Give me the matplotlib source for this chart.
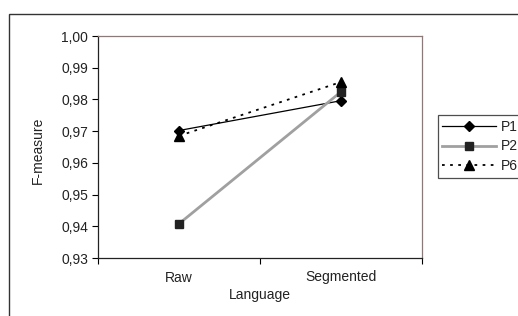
import matplotlib
matplotlib.use("Agg")
import matplotlib.pyplot as plt
from matplotlib.patches import Rectangle
from matplotlib.ticker import FuncFormatter

categories = ["Raw", "Segmented"]
series_names = ["P1", "P2", "P6"]
p1 = [0.9702, 0.9796]
p2 = [0.9408, 0.9824]
p6 = [0.9685, 0.9855]
yticks = [0.93, 0.94, 0.95, 0.96, 0.97, 0.98, 0.99, 1.00]

plt.rcParams['font.family'] = ['Liberation Sans', 'DejaVu Sans']
fs = 10
tcol = '#222222'

W, H = 518, 316
fig = plt.figure(figsize=(W/100, H/100), dpi=100)
fig.patch.set_facecolor('white')

# outer chart-area frame (cropped on right/bottom)
fig.patches.append(Rectangle((9/W, -0.1), 1.2, 1 - 14/H + 0.1, transform=fig.transFigure,
                             fill=False, edgecolor='#333333', linewidth=1.0))

ax = fig.add_axes([98/W, 1 - 258/H, (422-98)/W, (258-36)/H])
x = [0.5, 1.5]

ax.plot(x, p1, color='black', linewidth=0.9, marker='D', markersize=5.5,
        markerfacecolor='black', markeredgecolor='black', label=series_names[0], zorder=3)
ax.plot(x, p2, color='#a0a0a0', linewidth=2.0, marker='s', markersize=6,
        markerfacecolor='#222222', markeredgecolor='#222222', label=series_names[1], zorder=3)
ax.plot(x, p6, color='black', linewidth=1.3, linestyle=(0, (1.5, 3)), marker='^', markersize=7,
        markerfacecolor='black', markeredgecolor='black', label=series_names[2], zorder=3)

ax.set_xlim(0, 2)
ax.set_ylim(0.93, 1.00)
ax.set_yticks(yticks)
ax.yaxis.set_major_formatter(FuncFormatter(lambda v, p: f"{v:.2f}".replace('.', ',')))
ax.set_xticks([0, 1, 2])
ax.set_xticklabels([])
ax.set_xticks(x, minor=True)
ax.set_xticklabels(categories, minor=True)
ax.tick_params(axis='x', which='minor', length=0, pad=9, labelsize=fs, labelcolor=tcol)
ax.tick_params(axis='x', which='major', direction='out', length=4, width=0.8)
ax.tick_params(axis='y', direction='out', length=4, width=0.8, labelsize=fs, pad=3, labelcolor=tcol)

for s in ['left', 'bottom']:
    ax.spines[s].set_color('#222222')
    ax.spines[s].set_linewidth(0.9)
for s in ['top', 'right']:
    ax.spines[s].set_color('#8a7a7a')
    ax.spines[s].set_linewidth(0.9)

fig.text(38/W, 1 - 150/H, "F-measure", rotation=90, ha='center', va='center', fontsize=fs, color=tcol)
fig.text(260/W, 1 - 295/H, "Language", ha='center', va='center', fontsize=fs, color=tcol)

leg = fig.legend(loc='upper left', bbox_to_anchor=(437.5/W, 1 - 115/H), fontsize=fs,
                 frameon=True, fancybox=False, edgecolor='#222222', handlelength=3.9,
                 borderpad=0.33, labelspacing=0.42, handletextpad=0.35, borderaxespad=0)
leg.get_frame().set_linewidth(0.9)
for t in leg.get_texts():
    t.set_color(tcol)

fig.savefig("out.png", dpi=100, facecolor='white')
